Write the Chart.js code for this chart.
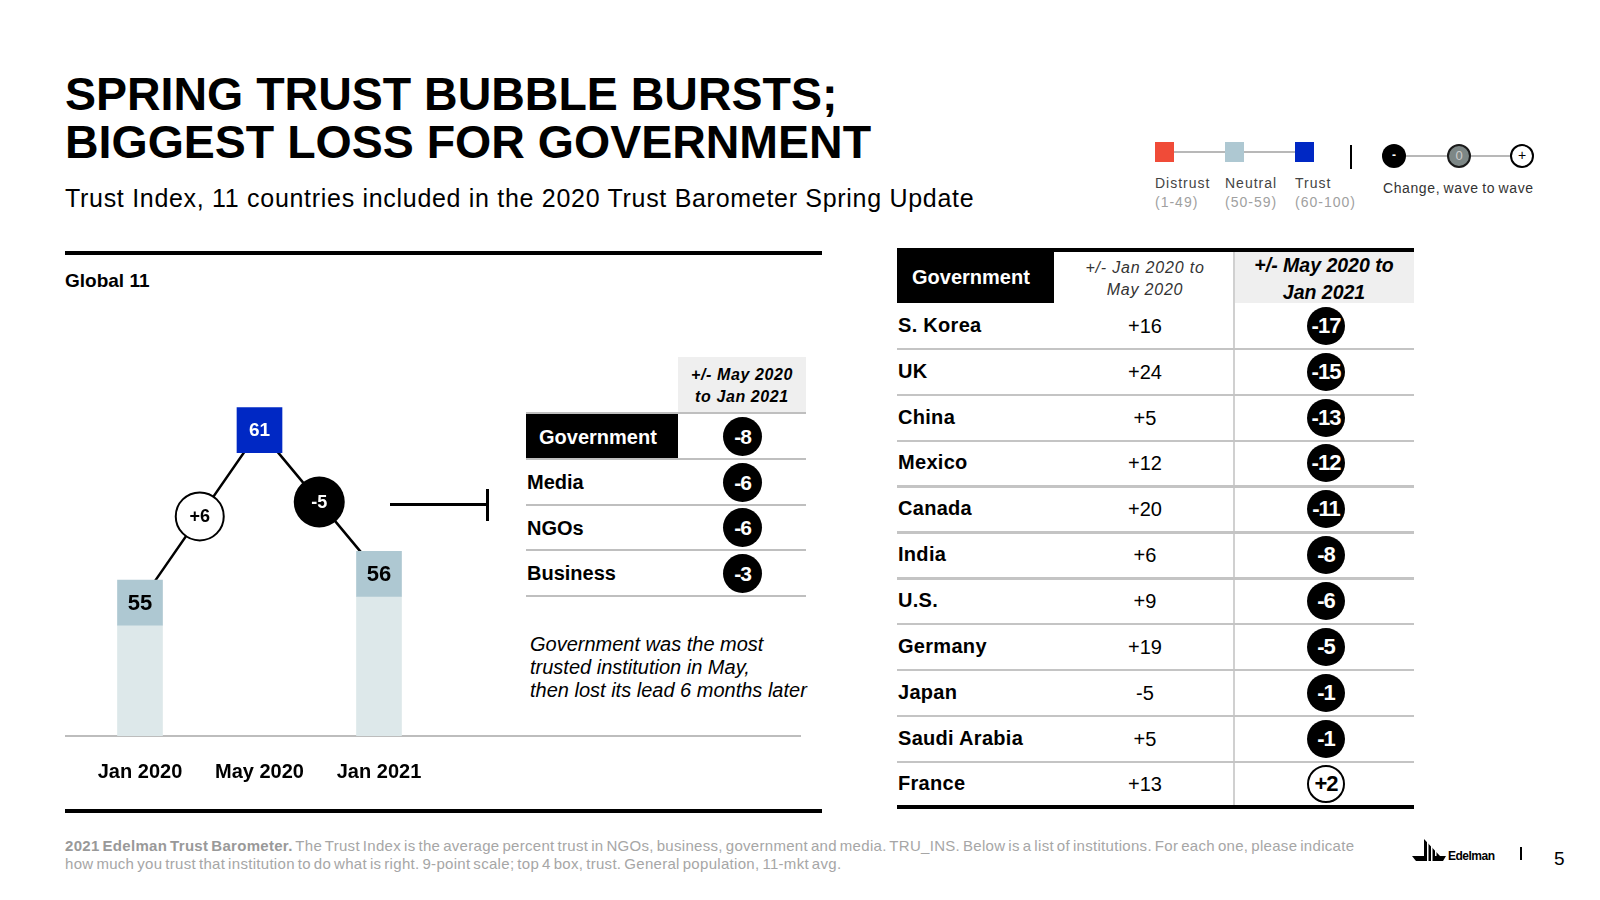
<!DOCTYPE html>
<html>
<head>
<meta charset="utf-8">
<script src="https://cdn.jsdelivr.net/npm/chart.js@4.4.1/dist/chart.umd.min.js"></script>
<style>
  body { margin: 0; background: #fff; }
  #page { position: relative; width: 1600px; height: 900px; overflow: hidden; font-family: "Liberation Sans", Arial, sans-serif; color: #000; }
  .t { position: absolute; white-space: nowrap; }
  .c { transform: translateX(-50%); text-align: center; }
  .ln { position: absolute; }
  .circ { position: absolute; border-radius: 50%; box-sizing: border-box; text-align: center;
          font-family: "Liberation Sans Narrow", "Liberation Sans", Arial, sans-serif; font-weight: bold; }
</style>
</head>
<body>
<div id="page">
  <div class="t" style="left:65px;top:70px;font-size:46.5px;line-height:48px;font-weight:bold;">SPRING TRUST BUBBLE BURSTS;<br>BIGGEST LOSS FOR GOVERNMENT</div>
  <div class="t" style="left:65px;top:183px;font-size:25px;line-height:30px;letter-spacing:0.7px;">Trust Index, 11 countries included in the 2020 Trust Barometer Spring Update</div>

  <div class="ln" style="left:65px;top:251px;width:757px;height:4px;background:#000;"></div>
  <div class="t" style="left:65px;top:270px;font-size:19px;line-height:22px;font-weight:bold;">Global 11</div>
  <div class="ln" style="left:65px;top:735px;width:736px;height:1.5px;background:#bdbdbd;"></div>
  <div class="ln" style="left:65px;top:809px;width:757px;height:4px;background:#000;"></div>

  <canvas id="chart" width="380" height="500" style="position:absolute;left:66px;top:300px;width:380px;height:500px;"></canvas>

  <div class="ln" style="left:390px;top:503px;width:98px;height:3px;background:#000;"></div>
  <div class="ln" style="left:486px;top:489px;width:3px;height:32px;background:#000;"></div>

  <div class="t" style="left:530px;top:633px;font-size:20px;line-height:23px;font-style:italic;">Government was the most<br>trusted institution in May,<br>then lost its lead 6 months later</div>

  <div class="t" style="left:65px;top:837px;font-size:15px;line-height:17.8px;color:#a6a6a6;letter-spacing:0.3px;word-spacing:-1.5px;"><b style="color:#999;">2021 Edelman Trust Barometer.</b> The Trust Index is the average percent trust in NGOs, business, government and media. TRU_INS. Below is a list of institutions. For each one, please indicate<br>how much you trust that institution to do what is right. 9-point scale; top 4 box, trust. General population, 11-mkt avg.</div>

  <svg style="position:absolute;left:1412px;top:838px;" width="34" height="26" viewBox="0 0 34 26">
    <polygon points="12,1 12,18 28,18" fill="#000"/>
    <rect x="15" y="2" width="1.5" height="17" fill="#fff"/>
    <rect x="19" y="2" width="1.5" height="17" fill="#fff"/>
    <rect x="23" y="2" width="1.5" height="17" fill="#fff"/>
    <polygon points="0,18 34,18 31,23 4,23" fill="#000"/>
    <rect x="15" y="18" width="1.5" height="6" fill="#fff"/>
    <rect x="19" y="18" width="1.5" height="6" fill="#fff"/>
  </svg>
  <div class="t" style="left:1448px;top:849px;font-size:12px;line-height:14px;font-weight:bold;letter-spacing:-0.5px;">Edelman</div>
  <div class="ln" style="left:1520px;top:847px;width:1.5px;height:13px;background:#000;"></div>
  <div class="t" style="left:1554px;top:848px;font-size:19px;line-height:22px;">5</div>
</div>

<script>
// Global 11 trust in government, by wave
const periods = ['Jan 2020', 'May 2020', 'Jan 2021'];
const trustIndex = [55, 61, 56];
const hasBaseBar = [true, false, true];

// change by institution, May 2020 to Jan 2021
const institutions = ['Government', 'Media', 'NGOs', 'Business'];
const instChange = [-8, -6, -6, -3];

// trust in government by country
const countries = ['S. Korea', 'UK', 'China', 'Mexico', 'Canada', 'India', 'U.S.', 'Germany', 'Japan', 'Saudi Arabia', 'France'];
const govJanToMay = [16, 24, 5, 12, 20, 6, 9, 19, -5, 5, 13];
const govMayToJan = [-17, -15, -13, -12, -11, -8, -6, -5, -1, -1, 2];

// legend bands
const bandNames = ['Distrust', 'Neutral', 'Trust'];
const bandRanges = ['(1-49)', '(50-59)', '(60-100)'];
const bandColors = ['#f04b38', '#aec8d2', '#0028c4'];

const Y_MIN = 49.58, Y_MAX = 63, BOX = 1.565;

function bandColor(v) {
  if (v >= 60) return bandColors[2];
  if (v >= 50) return bandColors[1];
  return bandColors[0];
}
function signed(v) { return v > 0 ? '+' + v : String(v); }

const page = document.getElementById('page');
function add(html) { page.insertAdjacentHTML('beforeend', html); }
function circle(cx, cy, d, v, fs) {
  const pos = v > 0;
  add('<div class="circ" style="left:' + (cx - d / 2) + 'px;top:' + (cy - d / 2) + 'px;width:' + d + 'px;height:' + d + 'px;' +
      'background:' + (pos ? '#fff' : '#000') + ';color:' + (pos ? '#000' : '#fff') + ';border:' + (pos ? '2px solid #000' : 'none') + ';' +
      'font-size:' + fs + 'px;line-height:' + (pos ? d - 4 : d) + 'px;letter-spacing:-1px;">' + signed(v) + '</div>');
}

// legend
add('<div class="ln" style="left:1174px;top:151px;width:121px;height:2px;background:#b8b8b8;"></div>');
bandNames.forEach(function (name, i) {
  const x = [1155, 1225, 1295][i];
  add('<div class="ln" style="left:' + x + 'px;top:142px;width:19px;height:20px;background:' + bandColors[i] + ';"></div>');
  add('<div class="t" style="left:' + x + 'px;top:174px;font-size:14px;line-height:18px;letter-spacing:1px;color:#444;">' + name + '</div>');
  add('<div class="t" style="left:' + x + 'px;top:193px;font-size:14px;line-height:18px;letter-spacing:1px;color:#a0a0a0;">' + bandRanges[i] + '</div>');
});
add('<div class="ln" style="left:1350px;top:145px;width:2px;height:24px;background:#000;"></div>');
add('<div class="ln" style="left:1394px;top:155px;width:128px;height:2px;background:#b8b8b8;"></div>');
add('<div class="circ" style="left:1382px;top:144px;width:24px;height:24px;background:#000;color:#fff;font-size:12px;line-height:22px;">-</div>');
add('<div class="circ" style="left:1447px;top:144px;width:24px;height:24px;background:#7d8786;border:2px solid #1a1a1a;color:#ccc;font-size:13px;line-height:20px;font-weight:normal;">0</div>');
add('<div class="circ" style="left:1510px;top:144px;width:24px;height:24px;background:#fff;border:2px solid #000;color:#000;font-size:14px;line-height:19px;font-weight:normal;">+</div>');
add('<div class="t" style="left:1383px;top:179px;font-size:14px;line-height:18px;letter-spacing:0.6px;color:#333;word-spacing:-1px;">Change, wave to wave</div>');

// institutions table
add('<div class="ln" style="left:678px;top:357px;width:128px;height:56px;background:#efefef;"></div>');
add('<div class="t c" style="left:742px;top:364px;font-size:16px;line-height:22px;font-weight:bold;font-style:italic;letter-spacing:0.6px;">+/- May 2020<br>to Jan 2021</div>');
add('<div class="ln" style="left:526px;top:412px;width:280px;height:2px;background:#bfbfbf;"></div>');
institutions.forEach(function (name, i) {
  const top = 414 + 45.5 * i, cy = top + 22.5;
  if (i === 0) {
    add('<div class="ln" style="left:526px;top:' + top + 'px;width:152px;height:44px;background:#000;"></div>');
    add('<div class="t" style="left:539px;top:' + (cy - 12) + 'px;font-size:20px;line-height:24px;font-weight:bold;color:#fff;">' + name + '</div>');
  } else {
    add('<div class="t" style="left:527px;top:' + (cy - 12) + 'px;font-size:20px;line-height:24px;font-weight:bold;">' + name + '</div>');
  }
  add('<div class="ln" style="left:526px;top:' + (top + 44) + 'px;width:280px;height:2px;background:#bfbfbf;"></div>');
  circle(742.5, cy, 39, instChange[i], 21);
});

// government by country table
const RH = 45.85, T0 = 303, TL = 897, TW = 517;
add('<div class="ln" style="left:' + TL + 'px;top:248px;width:' + TW + 'px;height:4px;background:#000;"></div>');
add('<div class="ln" style="left:' + TL + 'px;top:252px;width:157px;height:51px;background:#000;"></div>');
add('<div class="t" style="left:912px;top:265px;font-size:20px;line-height:24px;font-weight:bold;color:#fff;">Government</div>');
add('<div class="t c" style="left:1145px;top:257px;font-size:16px;line-height:22px;font-style:italic;letter-spacing:0.8px;color:#333;">+/- Jan 2020 to<br>May 2020</div>');
add('<div class="ln" style="left:1234px;top:252px;width:' + (TL + TW - 1234) + 'px;height:51px;background:#efefef;"></div>');
add('<div class="t c" style="left:1324px;top:252px;font-size:19.5px;line-height:27px;font-weight:bold;font-style:italic;">+/- May 2020 to<br>Jan 2021</div>');
add('<div class="ln" style="left:1233px;top:252px;width:2px;height:' + (RH * 11 + 51) + 'px;background:#d0d0d0;"></div>');
countries.forEach(function (name, i) {
  const top = T0 + RH * i, cy = top + RH / 2;
  add('<div class="t" style="left:898px;top:' + (cy - 13) + 'px;font-size:20px;line-height:24px;font-weight:bold;letter-spacing:0.3px;">' + name + '</div>');
  add('<div class="t c" style="left:1145px;top:' + (cy - 12) + 'px;font-size:20px;line-height:24px;">' + signed(govJanToMay[i]) + '</div>');
  circle(1326, cy, 38, govMayToJan[i], 22);
  if (i < countries.length - 1) {
    add('<div class="ln" style="left:' + TL + 'px;top:' + (top + RH - 1) + 'px;width:' + TW + 'px;height:2.5px;background:#c4c4c4;"></div>');
  }
});
add('<div class="ln" style="left:' + TL + 'px;top:' + (T0 + RH * 11 - 2) + 'px;width:' + TW + 'px;height:4px;background:#000;"></div>');

// bar + line chart
const overlay = {
  id: 'overlay',
  afterDatasetsDraw(chart) {
    const ctx = chart.ctx;
    const boxes = chart.getDatasetMeta(2).data;
    const pts = chart.getDatasetMeta(0).data;
    ctx.save();
    ctx.textAlign = 'center';
    ctx.textBaseline = 'middle';
    boxes.forEach(function (bar, i) {
      const v = trustIndex[i];
      const trust = v >= 60;
      ctx.fillStyle = trust ? '#fff' : '#000';
      ctx.font = 'bold ' + (trust ? 19 : 22) + 'px "Liberation Sans", Arial';
      ctx.fillText(String(v), bar.x, (bar.y + bar.base) / 2 + 1);
    });
    for (let i = 0; i < pts.length - 1; i++) {
      const d = trustIndex[i + 1] - trustIndex[i];
      const mx = (pts[i].x + pts[i + 1].x) / 2, my = (pts[i].y + pts[i + 1].y) / 2;
      ctx.beginPath();
      ctx.arc(mx, my, d > 0 ? 24 : 25.5, 0, Math.PI * 2);
      ctx.fillStyle = d > 0 ? '#fff' : '#000';
      ctx.fill();
      if (d > 0) { ctx.lineWidth = 2; ctx.strokeStyle = '#000'; ctx.stroke(); }
      ctx.fillStyle = d > 0 ? '#000' : '#fff';
      ctx.font = 'bold 18px "Liberation Sans", Arial';
      ctx.fillText(signed(d), mx, my + 1);
    }
    ctx.fillStyle = '#000';
    ctx.font = 'bold 20px "Liberation Sans", Arial';
    periods.forEach(function (p, i) {
      ctx.fillText(p, chart.scales.x.getPixelForValue(i), chart.chartArea.bottom + 36);
    });
    ctx.restore();
  }
};

new Chart(document.getElementById('chart'), {
  type: 'bar',
  data: {
    labels: periods,
    datasets: [
      {
        type: 'line',
        data: trustIndex.map(function (v) { return v - BOX / 2; }),
        borderColor: '#000',
        borderWidth: 2.5,
        pointRadius: 0,
        order: 3
      },
      {
        data: trustIndex.map(function (v, i) { return hasBaseBar[i] ? [Y_MIN, v - BOX] : null; }),
        backgroundColor: '#dde8ea',
        barThickness: 45,
        grouped: false,
        order: 2
      },
      {
        data: trustIndex.map(function (v) { return [v - BOX, v]; }),
        backgroundColor: trustIndex.map(bandColor),
        barThickness: 45,
        grouped: false,
        order: 1
      }
    ]
  },
  options: {
    responsive: false,
    animation: false,
    layout: { padding: { left: 14.25, right: 7.25, top: 50.1, bottom: 64 } },
    plugins: { legend: { display: false }, tooltip: { enabled: false } },
    scales: {
      x: { display: false },
      y: { display: false, min: Y_MIN, max: Y_MAX }
    }
  },
  plugins: [overlay]
});
</script>
</body>
</html>
